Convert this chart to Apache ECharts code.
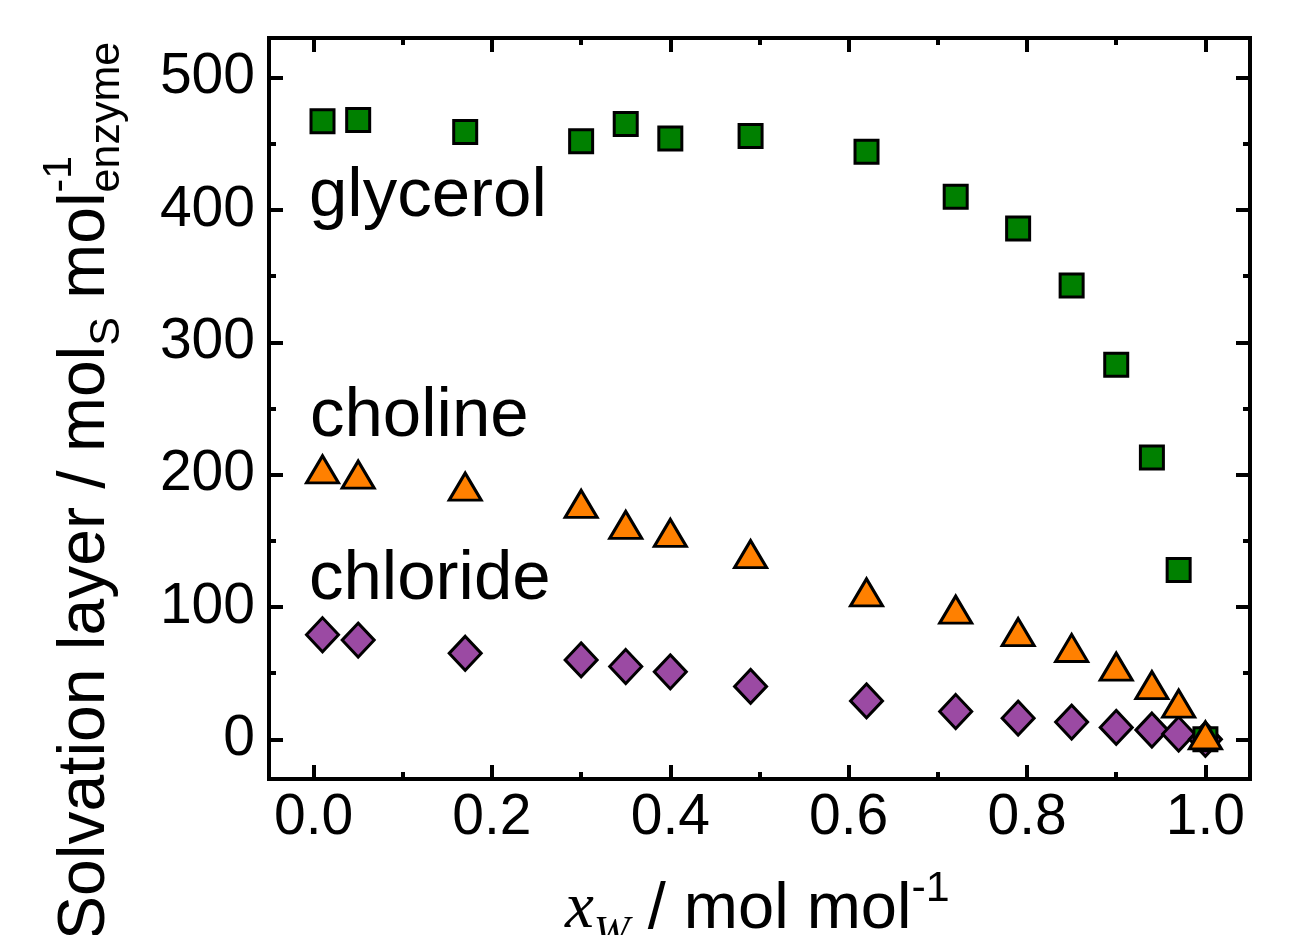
<!DOCTYPE html>
<html>
<head>
<meta charset="utf-8">
<script src="https://cdn.jsdelivr.net/npm/echarts@6/dist/echarts.min.js"></script>
<style>
  html, body { margin: 0; padding: 0; background: #fff; }
  #chart { width: 1293px; height: 935px; }
</style>
</head>
<body>
<div id="chart"></div>
<script>
// Water mole fraction of the solvent
const xw = [0.01, 0.05, 0.17, 0.30, 0.35, 0.40, 0.49, 0.62, 0.72, 0.79, 0.85, 0.90, 0.94, 0.97, 1.00];
// Solvation-layer composition (mol_S per mol enzyme)
const glycerol = [467, 468, 459, 452, 465, 454, 456, 444, 410, 386, 343, 283, 213, 128, 0];
const choline  = [204, 200, 191, 178, 162, 156, 140, 111, 98, 81, 69, 55, 41, 27, 3];
const chloride = [79, 75, 65, 60, 55, 51, 40, 29, 21, 16, 13, 9, 7, 4, 0];

// Axis ticks
const xMajorTicks = [0.0, 0.2, 0.4, 0.6, 0.8, 1.0];
const xMinorTicks = [0.1, 0.3, 0.5, 0.7, 0.9];
const yMajorTicks = [0, 100, 200, 300, 400, 500];
const yMinorTicks = [50, 150, 250, 350, 450];

const seriesLabels = ['glycerol', 'choline', 'chloride'];

const SANS = "'Liberation Sans', Arial, sans-serif";
const SERIF = "'Liberation Serif', 'Times New Roman', serif";
const MID = 0.29; // distance from text middle to baseline, in em

const chart = echarts.init(document.getElementById('chart'), null, { renderer: 'canvas' });

const AX_W = 4;

function xAxisDef(pos, ticks, len, withLabels) {
  return {
    type: 'value', position: pos, min: -0.05, max: 1.05,
    axisLine: { show: true, onZero: false, lineStyle: { color: '#000', width: AX_W, cap: 'square' } },
    axisTick: { show: true, inside: true, length: len, customValues: ticks, lineStyle: { color: '#000', width: AX_W } },
    axisLabel: withLabels ? {
      show: true, customValues: ticks, formatter: v => Number(v).toFixed(1),
      fontSize: 57, fontFamily: SANS, color: '#000', margin: 11
    } : { show: false },
    splitLine: { show: false }
  };
}
function yAxisDef(pos, ticks, len, withLabels) {
  return {
    type: 'value', position: pos, min: -30, max: 530,
    axisLine: { show: true, onZero: false, lineStyle: { color: '#000', width: AX_W, cap: 'square' } },
    axisTick: { show: true, inside: true, length: len, customValues: ticks, lineStyle: { color: '#000', width: AX_W } },
    axisLabel: withLabels ? {
      show: true, customValues: ticks, formatter: v => String(Math.round(v)),
      fontSize: 57, fontFamily: SANS, color: '#000', margin: 14
    } : { show: false },
    splitLine: { show: false }
  };
}

// Lay out a run of text pieces (with sub/superscripts) along a common baseline
const measureCtx = document.createElement('canvas').getContext('2d');
function fontStr(p) {
  return (p.italic ? 'italic ' : '') + p.size + 'px ' + p.family;
}
function runText(pieces) {
  let x = 0;
  const children = [];
  for (const p of pieces) {
    const f = fontStr(p);
    children.push({
      type: 'text',
      x: x,
      y: (p.dy || 0) - MID * p.size,
      style: {
        text: p.text, fill: '#000',
        fontSize: p.size, fontFamily: p.family, fontStyle: p.italic ? 'italic' : 'normal',
        align: 'left', verticalAlign: 'middle'
      }
    });
    measureCtx.font = f;
    if (!p.stack) x += measureCtx.measureText(p.text).width;
  }
  return children;
}

const yTitle = runText([
  { text: 'Solvation layer / mol', size: 66, family: SANS },
  { text: 'S', size: 43, family: SANS, dy: 15 },
  { text: ' mol', size: 66, family: SANS },
  { text: '-1', size: 41, family: SANS, dy: -33, stack: true },
  { text: 'enzyme', size: 43, family: SANS, dy: 15 }
]);
const xTitle = runText([
  { text: 'x', size: 65, family: SERIF, italic: true },
  { text: 'W', size: 43, family: SERIF, italic: true, dy: 17 },
  { text: ' / mol mol', size: 65, family: SANS },
  { text: '-1', size: 43, family: SANS, dy: -27 }
]);

function seriesLabel(text, x, baseline) {
  return {
    type: 'text', x: x, y: baseline - MID * 69, z: 10,
    style: { text: text, fill: '#000', fontSize: 69, fontFamily: SANS, align: 'left', verticalAlign: 'middle' }
  };
}

function scatter(name, vals, symbol, size, color, z) {
  return {
    type: 'scatter', name: name, xAxisIndex: 0, yAxisIndex: 0, z: z,
    data: xw.map((x, i) => [x, vals[i]]),
    symbol: symbol, symbolSize: size,
    itemStyle: { color: color, borderColor: '#000', borderWidth: 3, opacity: 1 },
    emphasis: { disabled: true }
  };
}

chart.setOption({
  animation: false,
  backgroundColor: '#fff',
  grid: { left: 269, right: 43, top: 38, bottom: 156, containLabel: false, outerBoundsMode: 'none' },
  xAxis: [
    xAxisDef('bottom', xMajorTicks, 14, true),
    xAxisDef('bottom', xMinorTicks, 7, false),
    xAxisDef('top', xMajorTicks, 14, false),
    xAxisDef('top', xMinorTicks, 7, false)
  ],
  yAxis: [
    yAxisDef('left', yMajorTicks, 14, true),
    yAxisDef('left', yMinorTicks, 7, false),
    yAxisDef('right', yMajorTicks, 14, false),
    yAxisDef('right', yMinorTicks, 7, false)
  ],
  series: [
    scatter(seriesLabels[2], chloride, 'diamond', [32, 34], '#9b4aa3', 2),
    scatter(seriesLabels[0], glycerol, 'rect', 23, '#008000', 3),
    scatter(seriesLabels[1], choline, 'triangle', [32, 27], '#ff8000', 4)
  ],
  graphic: [
    seriesLabel(seriesLabels[0], 309, 217),
    seriesLabel(seriesLabels[1], 310, 437),
    seriesLabel(seriesLabels[2], 309, 600),
    { type: 'group', x: 105, y: 940, rotation: Math.PI / 2, children: yTitle },
    { type: 'group', x: 565, y: 929, children: xTitle }
  ]
});
</script>
</body>
</html>
